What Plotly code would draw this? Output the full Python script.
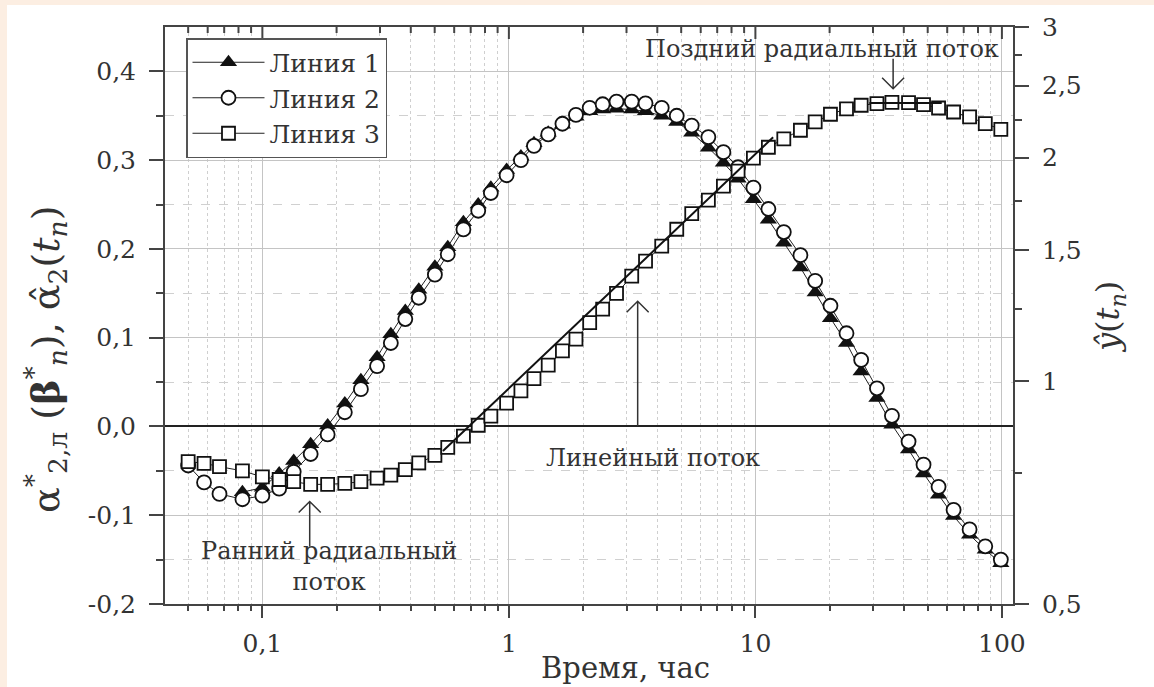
import math
import plotly.graph_objects as go

# Sampling times, h (shared by all three series)
time_h = [0.050, 0.058, 0.067, 0.083, 0.100, 0.117, 0.134, 0.157, 0.184, 0.216,
          0.251, 0.292, 0.332, 0.380, 0.431, 0.501, 0.565, 0.654, 0.751, 0.845,
          0.979, 1.119, 1.264, 1.444, 1.649, 1.871, 2.127, 2.401, 2.733, 3.150,
          3.584, 4.169, 4.797, 5.518, 6.445, 7.418, 8.506, 9.815, 11.29, 13.04,
          15.23, 17.48, 20.16, 23.42, 26.86, 31.12, 35.80, 41.81, 48.09, 55.34,
          63.68, 73.94, 85.61, 99.0]

# Линия 1 starts at the 4th sampling time
line1_start = 3
line1 = [-0.074, -0.069, -0.053, -0.039, -0.020, 0.001, 0.026,
         0.052, 0.078, 0.104, 0.130, 0.154, 0.180, 0.202, 0.230, 0.250, 0.269,
         0.289, 0.304, 0.319, 0.331, 0.340, 0.349, 0.355, 0.357, 0.358, 0.357,
         0.355, 0.350, 0.343, 0.331, 0.314, 0.297, 0.279, 0.256, 0.233, 0.207,
         0.179, 0.151, 0.122, 0.094, 0.062, 0.032, 0.002, -0.026, -0.053, -0.077,
         -0.101, -0.122, -0.139, -0.154]

line2 = [-0.044, -0.063, -0.076, -0.082, -0.078, -0.070, -0.051, -0.031, -0.009, 0.016,
         0.042, 0.068, 0.094, 0.121, 0.145, 0.171, 0.194, 0.222, 0.243, 0.263,
         0.283, 0.300, 0.316, 0.329, 0.341, 0.351, 0.359, 0.363, 0.366, 0.366,
         0.364, 0.359, 0.350, 0.339, 0.326, 0.309, 0.292, 0.269, 0.245, 0.219,
         0.193, 0.164, 0.136, 0.105, 0.075, 0.043, 0.012, -0.017, -0.043, -0.068,
         -0.094, -0.116, -0.135, -0.150]

# Линия 3 is read on the right (logarithmic) axis
line3 = [0.778, 0.774, 0.766, 0.756, 0.742, 0.736, 0.731, 0.725, 0.725, 0.727,
         0.731, 0.739, 0.746, 0.759, 0.775, 0.793, 0.813, 0.842, 0.871, 0.896,
         0.933, 0.969, 1.007, 1.050, 1.097, 1.138, 1.198, 1.249, 1.312, 1.384,
         1.450, 1.519, 1.601, 1.681, 1.752, 1.830, 1.917, 1.996, 2.065, 2.120,
         2.177, 2.234, 2.288, 2.327, 2.353, 2.365, 2.374, 2.372, 2.358, 2.333,
         2.304, 2.269, 2.223, 2.183]

# Straight-line fits on the right axis: linear flow and late radial flow
linear_fit_t = [0.54, 11.8]
linear_fit_y = [0.804, 2.13]
late_fit_t = [29.0, 57.0]
late_fit_y = [2.37, 2.37]

# Axis ticks
x_ticks = [0.1, 1, 10, 100]
x_tick_text = ["0,1", "1", "10", "100"]
x_minor = [0.05, 0.06, 0.07, 0.08, 0.09, 0.2, 0.3, 0.4, 0.5, 0.6, 0.7, 0.8, 0.9,
           2, 3, 4, 5, 6, 7, 8, 9, 20, 30, 40, 50, 60, 70, 80, 90]
y_ticks = [-0.2, -0.1, 0.0, 0.1, 0.2, 0.3, 0.4]
y_tick_text = ["-0,2", "-0,1", "0,0", "0,1", "0,2", "0,3", "0,4"]
y_minor = [-0.15, -0.05, 0.05, 0.15, 0.25, 0.35]
y2_ticks = [0.5, 1, 1.5, 2, 2.5, 3]
y2_tick_text = ["0,5", "1", "1,5", "2", "2,5", "3"]
y2_minor = [0.75, 1.25, 1.75, 2.25, 2.75]

X_LOG_MIN, X_LOG_MAX = -1.395, 2.045
Y_MIN, Y_MAX = -0.2, 0.45

FONT = "DejaVu Serif"
INK = "#333333"
AXIS = "#444444"
W, H = 1154, 687
ML, MR, MT, MB = 165, 141, 27, 83
PLOT_H = H - MT - MB


def xfrac(t):
    return (math.log10(t) - X_LOG_MIN) / (X_LOG_MAX - X_LOG_MIN)


def px_to_paper(px, py):
    return (px - ML) / (W - ML - MR), (H - MB - py) / PLOT_H


fig = go.Figure()

fig.add_trace(go.Scatter(
    x=time_h[line1_start:], y=line1, name="Линия 1", mode="lines+markers",
    line=dict(color="#222", width=1),
    marker=dict(symbol="triangle-up", size=15, color="#111", line=dict(width=0)),
))
fig.add_trace(go.Scatter(
    x=time_h, y=line2, name="Линия 2", mode="lines+markers",
    line=dict(color="#222", width=1),
    marker=dict(symbol="circle", size=14, color="white", line=dict(color="#111", width=1.8)),
))
fig.add_trace(go.Scatter(
    x=time_h, y=line3, name="Линия 3", mode="lines+markers", yaxis="y2",
    line=dict(color="#222", width=1),
    marker=dict(symbol="square", size=13, color="white", line=dict(color="#111", width=1.8)),
))
fig.add_trace(go.Scatter(
    x=linear_fit_t, y=linear_fit_y, mode="lines", yaxis="y2", showlegend=False,
    line=dict(color="#111", width=2), hoverinfo="skip",
))
fig.add_trace(go.Scatter(
    x=late_fit_t, y=late_fit_y, mode="lines", yaxis="y2", showlegend=False,
    line=dict(color="#111", width=2), hoverinfo="skip",
))

tick_font = dict(family=FONT, size=25, color=INK)

fig.update_layout(
    width=W, height=H,
    margin=dict(l=ML, r=MR, t=MT, b=MB),
    paper_bgcolor="white", plot_bgcolor="white",
    font=dict(family=FONT, color=INK),
    showlegend=True,
    legend=dict(
        x=px_to_paper(186, 0)[0], y=px_to_paper(0, 38)[1], xanchor="left", yanchor="top",
        bgcolor="white", bordercolor="#555", borderwidth=1.5,
        font=dict(family=FONT, size=25, color=INK), itemwidth=72, tracegroupgap=0,
    ),
    xaxis=dict(
        type="log", range=[X_LOG_MIN, X_LOG_MAX],
        tickvals=x_ticks, ticktext=x_tick_text, tickfont=tick_font,
        ticks="outside", ticklen=12, tickwidth=2, tickcolor=AXIS, ticklabelstandoff=4,
        showgrid=True, gridcolor="#c4c4c4", gridwidth=1.3,
        minor=dict(tickvals=x_minor, ticks="outside", ticklen=5, tickwidth=2, tickcolor=AXIS,
                   showgrid=True, gridcolor="#cfcfcf", griddash="dot", gridwidth=1),
        showline=True, linecolor=AXIS, linewidth=2, mirror=True,
        zeroline=False,
    ),
    yaxis=dict(
        range=[Y_MIN, Y_MAX],
        tickvals=y_ticks, ticktext=y_tick_text, tickfont=tick_font,
        ticks="outside", ticklen=14, tickwidth=2, tickcolor=AXIS, ticklabelstandoff=8,
        showgrid=True, gridcolor="#c4c4c4", gridwidth=1.3,
        minor=dict(tickvals=y_minor, ticks="outside", ticklen=7, tickwidth=2, tickcolor=AXIS,
                   showgrid=True, gridcolor="#d0d0d0", griddash="dash", gridwidth=1),
        zeroline=True, zerolinecolor="#222", zerolinewidth=1.6,
        showline=True, linecolor=AXIS, linewidth=2,
    ),
    yaxis2=dict(
        type="log", range=[math.log10(0.5), math.log10(3)],
        overlaying="y", side="right",
        tickvals=y2_ticks, ticktext=y2_tick_text, tickfont=tick_font,
        ticks="outside", ticklen=14, tickwidth=2, tickcolor=AXIS, ticklabelstandoff=8,
        minor=dict(tickvals=y2_minor, ticks="outside", ticklen=7, tickwidth=2, tickcolor=AXIS),
        showgrid=False, zeroline=False,
        showline=True, linecolor=AXIS, linewidth=2,
    ),
)

# Inward tick marks along the top frame
for tv, length in [(v, 12) for v in x_ticks] + [(v, 6) for v in x_minor]:
    xf = xfrac(tv)
    fig.add_shape(type="line", xref="paper", yref="paper",
                  x0=xf, x1=xf, y0=1.0, y1=1.0 - length / PLOT_H,
                  line=dict(color=AXIS, width=2), layer="above")

ann_font = dict(family=FONT, size=24, color=INK)

# Flow-regime labels
fig.add_annotation(x=math.log10(18.7), y=0.4256, xref="x", yref="y",
                   text="Поздний радиальный поток", showarrow=False, font=ann_font)
fig.add_annotation(x=math.log10(3.84), y=-0.036, xref="x", yref="y",
                   text="Линейный поток", showarrow=False, font=ann_font)
fig.add_annotation(x=math.log10(0.186), y=-0.158, xref="x", yref="y",
                   text="Ранний радиальный<br>поток", showarrow=False, font=ann_font)

# Arrows: (time at tip, value at tip, shaft length px, pointing up?)
arrows = [(36.2, 0.3805, 30, False), (3.33, 0.141, 125, True), (0.1556, -0.0845, 45, True)]
for t_tip, v_tip, length, up in arrows:
    s = -1 if up else 1
    path = f"M0,0 L0,{s * length} M-11,{s * 11} L0,0 L11,{s * 11}"
    fig.add_shape(type="path", path=path, xref="paper", yref="y",
                  xsizemode="pixel", ysizemode="pixel",
                  xanchor=xfrac(t_tip), yanchor=v_tip,
                  line=dict(color="#333", width=1.5))

# Axis titles
px_, py_ = px_to_paper(625, 668)
fig.add_annotation(x=px_, y=py_, xref="paper", yref="paper", showarrow=False,
                   xanchor="center", yanchor="middle",
                   text="Время, час", font=dict(family=FONT, size=29, color=INK))
px_, py_ = px_to_paper(45, 360)
fig.add_annotation(x=px_, y=py_, xref="paper", yref="paper", showarrow=False, textangle=-90,
                   xanchor="center", yanchor="middle",
                   text="α<sup>*</sup><sub>2,л</sub> (<b>β</b><sup>*</sup><sub><i>n</i></sub>), "
                        "α\u0302<sub>2</sub>(<i>t<sub>n</sub></i>)",
                   font=dict(family=FONT, size=38, color=INK))
px_, py_ = px_to_paper(1110, 317)
fig.add_annotation(x=px_, y=py_, xref="paper", yref="paper", showarrow=False, textangle=-90,
                   xanchor="center", yanchor="middle",
                   text="<i>y\u0302</i>(<i>t<sub>n</sub></i>)",
                   font=dict(family=FONT, size=32, color=INK))

# Page edging
peach = "#FCEEE2"
x0, y0 = px_to_paper(0, 0)
x1, y1 = px_to_paper(W, 5)
fig.add_shape(type="rect", xref="paper", yref="paper", x0=x0, x1=x1, y0=y1, y1=y0,
              fillcolor=peach, line=dict(width=0), layer="above")
x1b, yb = px_to_paper(7, H)
fig.add_shape(type="rect", xref="paper", yref="paper", x0=x0, x1=x1b, y0=yb, y1=y0,
              fillcolor=peach, line=dict(width=0), layer="above")

fig.write_html("out.html")
